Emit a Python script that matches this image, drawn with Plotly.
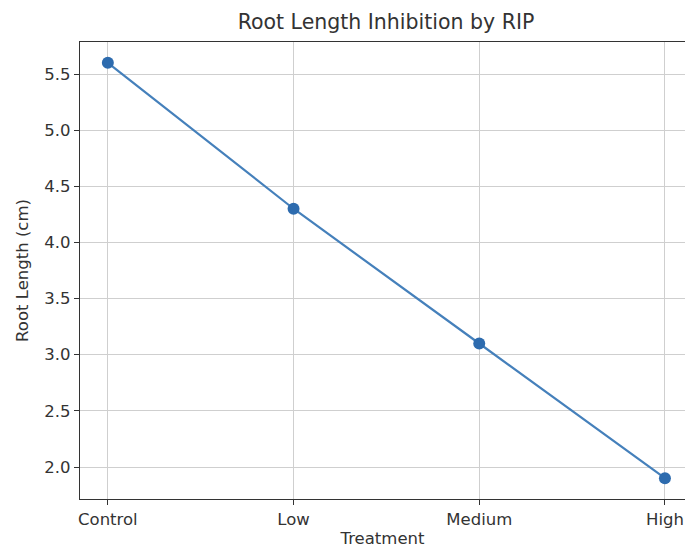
import plotly.graph_objects as go

categories = ["Control", "Low", "Medium", "High"]
root_length = [5.6, 4.3, 3.1, 1.9]
y_ticks = [2.0, 2.5, 3.0, 3.5, 4.0, 4.5, 5.0, 5.5]

x_pos = list(range(len(categories)))

W, H = 685, 548

fig = go.Figure()
fig.add_trace(go.Scatter(
    x=x_pos, y=root_length, mode="lines+markers",
    line=dict(color="#4580bb", width=2.2),
    marker=dict(color="#2d6bae", size=12),
    showlegend=False,
))

axis_common = dict(
    showgrid=True, gridcolor="#cfcfcf", gridwidth=1,
    showline=True, linecolor="#333333", linewidth=1.3,
    ticks="outside", ticklen=5, tickcolor="#333333",
    tickfont=dict(family="DejaVu Sans", size=16.5, color="#333333"),
    zeroline=False, automargin=False,
)

fig.update_layout(
    width=W, height=H,
    margin=dict(l=80, r=0, t=42, b=49),
    plot_bgcolor="white", paper_bgcolor="white",
    font=dict(family="DejaVu Sans", color="#333333"),
    title=dict(text="Root Length Inhibition by RIP", x=386/W, xanchor="center",
               y=1 - 22/H, yanchor="middle", xref="container", yref="container",
               font=dict(family="DejaVu Sans", size=20.5, color="#333333")),
    xaxis=dict(range=[-0.15, 3.108], tickmode="array", tickvals=x_pos, ticktext=categories,
               mirror=True,
               title=dict(text="Treatment", standoff=10,
                          font=dict(family="DejaVu Sans", size=16.5, color="#333333")),
               **axis_common),
    yaxis=dict(range=[1.715, 5.785], tickmode="array", tickvals=y_ticks,
               ticktext=[f"{v:.1f}" for v in y_ticks], mirror=False,
               title=dict(text="Root Length (cm)", standoff=11,
                          font=dict(family="DejaVu Sans", size=16.5, color="#333333")),
               **axis_common),
)

fig.write_html(
    "out.html",
    config={"displayModeBar": False},
    post_script="document.body.style.margin='0';document.body.style.overflow='hidden';",
)
